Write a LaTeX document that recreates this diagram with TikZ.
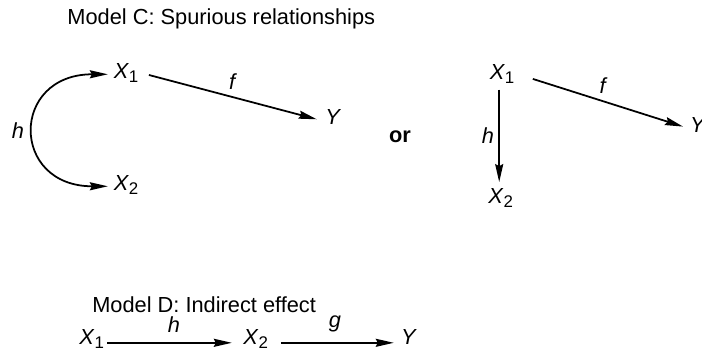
\documentclass[tikz,border=0pt]{standalone}
\usepackage{fontspec}
\setmainfont{Liberation Sans}
\usetikzlibrary{arrows.meta, positioning, calc}

\newcommand{\vx}[2]{\textit{#1}\textsubscript{\large #2}}

\begin{document}
\begin{tikzpicture}[font=\fontsize{15.5}{18}\selectfont,
  var/.style={inner sep=1pt, anchor=base},
  lbl/.style={font=\fontsize{15.5}{18}\selectfont\itshape, inner sep=2pt},
  path/.style={line width=1.25pt, -{Stealth[length=4.5mm,width=2mm,inset=0.5mm]}},
  twoway/.style={line width=1.25pt, {Stealth[length=4.5mm,width=2mm,inset=0.5mm]}-{Stealth[length=4.5mm,width=2mm,inset=0.5mm]}}]
  \useasboundingbox (0,0) rectangle (17.55,9.05);

  % Model C
  \node[anchor=base west, inner sep=0pt] (titleC) at (1.68,8.45) {Model C: Spurious relationships};

  % left version
  \node[var] (x1a) at (3.16,7.1) {\vx{X}{1}};
  \node[var] (x2a) at (3.16,4.3) {\vx{X}{2}};
  \node[var] (ya) at (8.33,5.93) {\textit{Y}};
  \draw[path, shorten <=6pt, shorten >=5pt] (x1a.east) -- node[lbl, midway, above=3pt] {f} (ya.mid west);
  \draw[twoway, shorten <=3pt, shorten >=3pt] (x1a.mid west) .. controls +(-2.55,0) and +(-2.55,0) .. coordinate[pos=.5] (hmid) (x2a.mid west);
  \node[lbl, left=6pt of hmid] (ha) {h};

  \node[font=\fontsize{15.5}{18}\selectfont\bfseries] (or) at (10.0,5.625) {or};

  % right version
  \node[var] (x1b) at (12.56,7.075) {\vx{X}{1}};
  \node[var] (x2b) at (12.525,3.975) {\vx{X}{2}};
  \node[var] (yb) at (17.45,5.75) {\textit{Y}};
  \draw[path, shorten <=3pt, shorten >=3pt] ($(x1b.south)+(-0.08,0)$) -- node[lbl, midway, left=1pt] {h} ($(x2b.north -| x1b.south)+(-0.08,0)$);
  \draw[path, shorten <=12pt, shorten >=4pt] (x1b.east) -- node[lbl, midway, above=3pt] {f} (yb.mid west);

  % Model D
  \node[anchor=base west, inner sep=0pt] (titleD) at (2.3,1.25) {Model D: Indirect effect};
  \node[var] (x1d) at (2.3,0.45) {\vx{X}{1}};
  \node[var] (x2d) at (6.4,0.45) {\vx{X}{2}};
  \node[var] (yd) at (10.225,0.45) {\textit{Y}};
  \draw[path, shorten <=0.5pt, shorten >=7pt] ($(x1d.base east)+(0,0.03)$) -- node[lbl, midway, above=5pt] {h} ($(x2d.base west)+(0,0.03)$);
  \draw[path, shorten <=7.5pt, shorten >=4pt] ($(x2d.base east)+(0,0.03)$) -- node[lbl, midway, above=5pt] {g} ($(yd.base west)+(0,0.03)$);

\end{tikzpicture}
\end{document}
